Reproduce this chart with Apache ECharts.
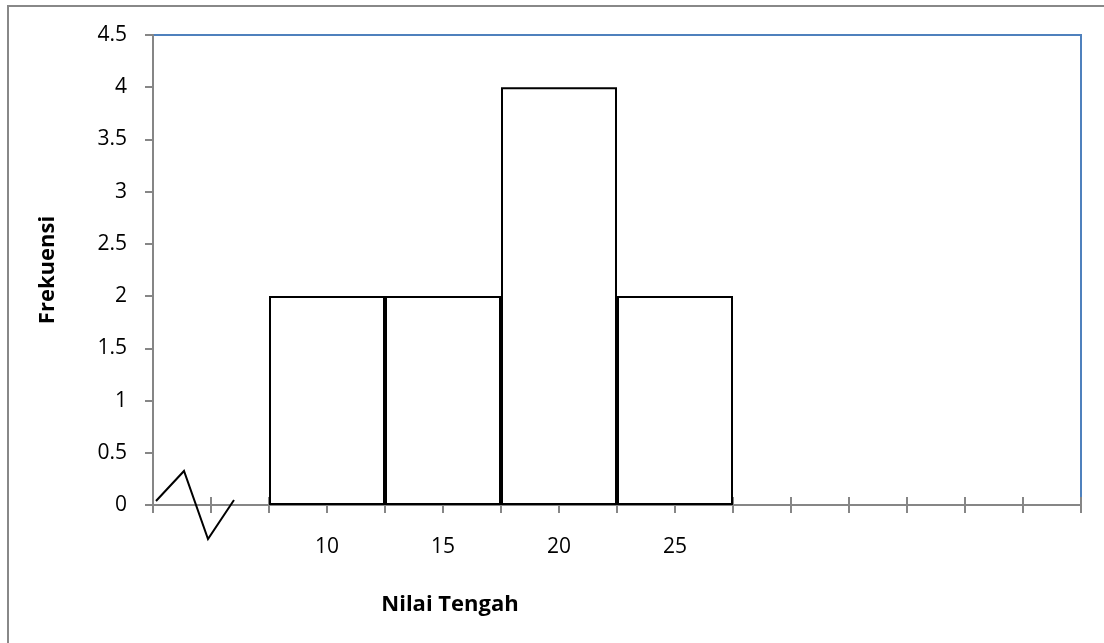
<!DOCTYPE html>
<html><head><meta charset="utf-8">
<script src="https://cdn.jsdelivr.net/npm/echarts@6/dist/echarts.min.js"></script>
<style>html,body{margin:0;padding:0;background:#fff}#c{width:1104px;height:643px}</style>
</head><body><div id="c"></div>
<script>
const categories = ['', '10', '15', '20', '25', '', '', ''];
const frekuensi = [null, 2, 2, 4, 2, null, null, null];
const yTicks = {min: 0, max: 4.5, interval: 0.5};

const chart = echarts.init(document.getElementById('c'));
const FONT = '"Open Sans", "Liberation Sans", sans-serif';
const GRAY = '#868686';
const tickAxisBase = {
  type: 'value', min: 0, max: 16, interval: 1, position: 'bottom',
  axisLine: {show: false}, axisLabel: {show: false}, splitLine: {show: false}
};
chart.setOption({
  animation: false,
  grid: {left: 153, right: 23, top: 35, bottom: 138, show: true, borderColor: '#4F81BD', borderWidth: 2, backgroundColor: 'transparent'},
  xAxis: [
    {
      type: 'category', data: categories, position: 'bottom',
      name: 'Nilai Tengah', nameLocation: 'middle', nameGap: 89,
      nameTextStyle: {fontFamily: FONT, fontWeight: 'bold', fontSize: 22, color: '#000', padding: [0, 0, 0, -334]},
      axisLine: {show: true, lineStyle: {color: GRAY, width: 2}},
      axisTick: {show: false},
      axisLabel: {margin: 32, fontFamily: FONT, fontSize: 21, color: '#000', interval: 0},
      splitLine: {show: false}
    },
    Object.assign({}, tickAxisBase, {axisTick: {show: true, inside: false, length: 8, lineStyle: {color: GRAY, width: 2}}}),
    Object.assign({}, tickAxisBase, {axisTick: {show: true, inside: true, length: 8, lineStyle: {color: GRAY, width: 2}}})
  ],
  yAxis: {
    type: 'value', min: yTicks.min, max: yTicks.max, interval: yTicks.interval,
    name: 'Frekuensi', nameLocation: 'middle', nameGap: 94, nameRotate: 90,
    nameTextStyle: {fontFamily: FONT, fontWeight: 'bold', fontSize: 22, color: '#000'},
    axisLine: {show: true, lineStyle: {color: GRAY, width: 2}},
    axisTick: {show: true, length: 8, lineStyle: {color: GRAY, width: 2}},
    axisLabel: {margin: 26, fontFamily: FONT, fontSize: 21, color: '#000'},
    splitLine: {show: false}
  },
  series: [{
    type: 'bar', xAxisIndex: 0, data: frekuensi, barCategoryGap: '0%',
    itemStyle: {color: '#fff', borderColor: '#000', borderWidth: 2},
    silent: true
  }],
  graphic: [
    {type: 'rect', shape: {x: 8, y: 6, width: 1200, height: 800}, style: {fill: 'none', stroke: '#888', lineWidth: 2}, z: 100},
    {type: 'polyline', shape: {points: [[156, 501], [184, 471], [208, 539], [234, 500]]}, style: {stroke: '#000', lineWidth: 2, fill: 'none'}, z: 100}
  ]
});
</script></body></html>
